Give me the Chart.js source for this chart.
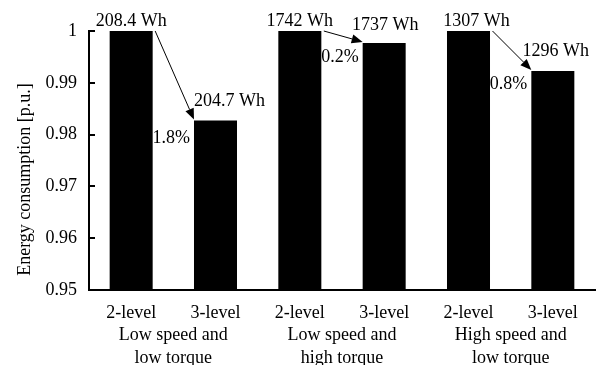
<!DOCTYPE html>
<html>
<head>
<meta charset="utf-8">
<script src="https://cdn.jsdelivr.net/npm/chart.js@4/dist/chart.umd.min.js"></script>
<style>
html,body{margin:0;padding:0;background:#fff;}
#wrap{width:603px;height:365px;}
</style>
</head>
<body>
<div id="wrap"><canvas id="c" width="603" height="365"></canvas></div>
<script>
// ---- data ----
const barLabels = ['2-level', '3-level', '2-level', '3-level', '2-level', '3-level'];
const groupLabels = [['Low speed and', 'low torque'], ['Low speed and', 'high torque'], ['High speed and', 'low torque']];
const energyPU = [1, 0.9827, 1, 0.9977, 1, 0.9923];
const energyLabels = ['208.4 Wh', '204.7 Wh', '1742 Wh', '1737 Wh', '1307 Wh', '1296 Wh'];
const reductionLabels = ['1.8%', '0.2%', '0.8%'];
const yTickValues = [0.95, 0.96, 0.97, 0.98, 0.99, 1];
const yTitle = 'Energy consumption [p.u.]';

const FONT = "'Liberation Serif', 'Times New Roman', serif";

const annotPlugin = {
  id: 'annot',
  afterDatasetsDraw(chart) {
    const ctx = chart.ctx;
    const meta = chart.getDatasetMeta(0);
    const yScale = chart.scales.y;
    const area = chart.chartArea;
    ctx.save();
    // inward y ticks
    ctx.strokeStyle = '#000';
    ctx.lineWidth = 2;
    yTickValues.forEach(v => {
      const py = Math.round(yScale.getPixelForValue(v));
      ctx.beginPath();
      ctx.moveTo(area.left, py);
      ctx.lineTo(area.left + 6, py);
      ctx.stroke();
    });
    // y title
    ctx.font = '18px ' + FONT;
    ctx.fillStyle = '#000';
    ctx.textAlign = 'center';
    ctx.textBaseline = 'middle';
    ctx.save();
    ctx.translate(25, (area.top + area.bottom) / 2 + 19);
    ctx.rotate(-Math.PI / 2);
    ctx.fillText(yTitle, 0, 0);
    ctx.restore();
    // value labels
    const dx = [0, 14, 0, 1, 8, 3];
    const dy = [-10, -19, -10, -18, -10, -20];
    meta.data.forEach((bar, i) => {
      const p = bar.getProps(['x', 'y', 'width'], true);
      ctx.textAlign = 'center';
      ctx.fillText(energyLabels[i], p.x + dx[i], p.y + dy[i]);
    });
    // arrows and reductions
    const pdy = [18, 14, 13];
    for (let g = 0; g < 3; g++) {
      const a = meta.data[2 * g].getProps(['x', 'y', 'width'], true);
      const b = meta.data[2 * g + 1].getProps(['x', 'y', 'width'], true);
      const x0 = a.x + a.width / 2 + 2.5, y0 = a.y;
      const x1 = b.x - b.width / 2, y1 = b.y - 1;
      const ang = Math.atan2(y1 - y0, x1 - x0);
      const L = 11, W = 4.5;
      const bx = x1 - L * Math.cos(ang), by = y1 - L * Math.sin(ang);
      ctx.lineWidth = 1;
      ctx.beginPath();
      ctx.moveTo(x0, y0);
      ctx.lineTo(bx, by);
      ctx.stroke();
      ctx.beginPath();
      ctx.moveTo(x1, y1);
      ctx.lineTo(bx - W * Math.sin(ang), by + W * Math.cos(ang));
      ctx.lineTo(bx + W * Math.sin(ang), by - W * Math.cos(ang));
      ctx.closePath();
      ctx.fill();
      ctx.textAlign = 'right';
      ctx.fillText(reductionLabels[g], x1 - 4, b.y + pdy[g]);
    }
    ctx.restore();
  }
};

const noClip = s => { s._computeLabelArea = () => undefined; };

new Chart(document.getElementById('c'), {
  type: 'bar',
  data: {
    labels: barLabels,
    datasets: [{
      data: energyPU,
      backgroundColor: '#000',
      borderWidth: 0,
      categoryPercentage: 1,
      barPercentage: 0.51
    }]
  },
  options: {
    responsive: false,
    devicePixelRatio: 1,
    animation: false,
    layout: { padding: { left: 0, top: 31, right: 8, bottom: 0 } },
    plugins: { legend: { display: false }, tooltip: { enabled: false } },
    scales: {
      y: {
        min: 0.95, max: 1,
        afterFit(s) { s.width = 89; },
        afterBuildTicks(s) { s.ticks = yTickValues.map(v => ({ value: v })); },
        grid: { display: false },
        border: { display: true, color: '#000', width: 2 },
        ticks: {
          color: '#000',
          font: { family: FONT, size: 18 },
          padding: 4,
          callback: v => String(+v.toFixed(2))
        }
      },
      x: {
        grid: { display: false },
        border: { display: true, color: '#000', width: 2 },
        afterFit(s) { s.height = 26; noClip(s); },
        ticks: {
          color: '#000',
          font: { family: FONT, size: 18 },
          padding: 4,
          maxRotation: 0
        }
      },
      x2: {
        type: 'category',
        position: 'bottom',
        labels: groupLabels,
        offset: true,
        grid: { display: false },
        border: { display: false },
        afterFit(s) { s.height = 49; noClip(s); },
        ticks: {
          color: '#000',
          font: { family: FONT, size: 18, lineHeight: 1.28 },
          padding: 0,
          maxRotation: 0
        }
      }
    }
  },
  plugins: [annotPlugin]
});
</script>
</body>
</html>
